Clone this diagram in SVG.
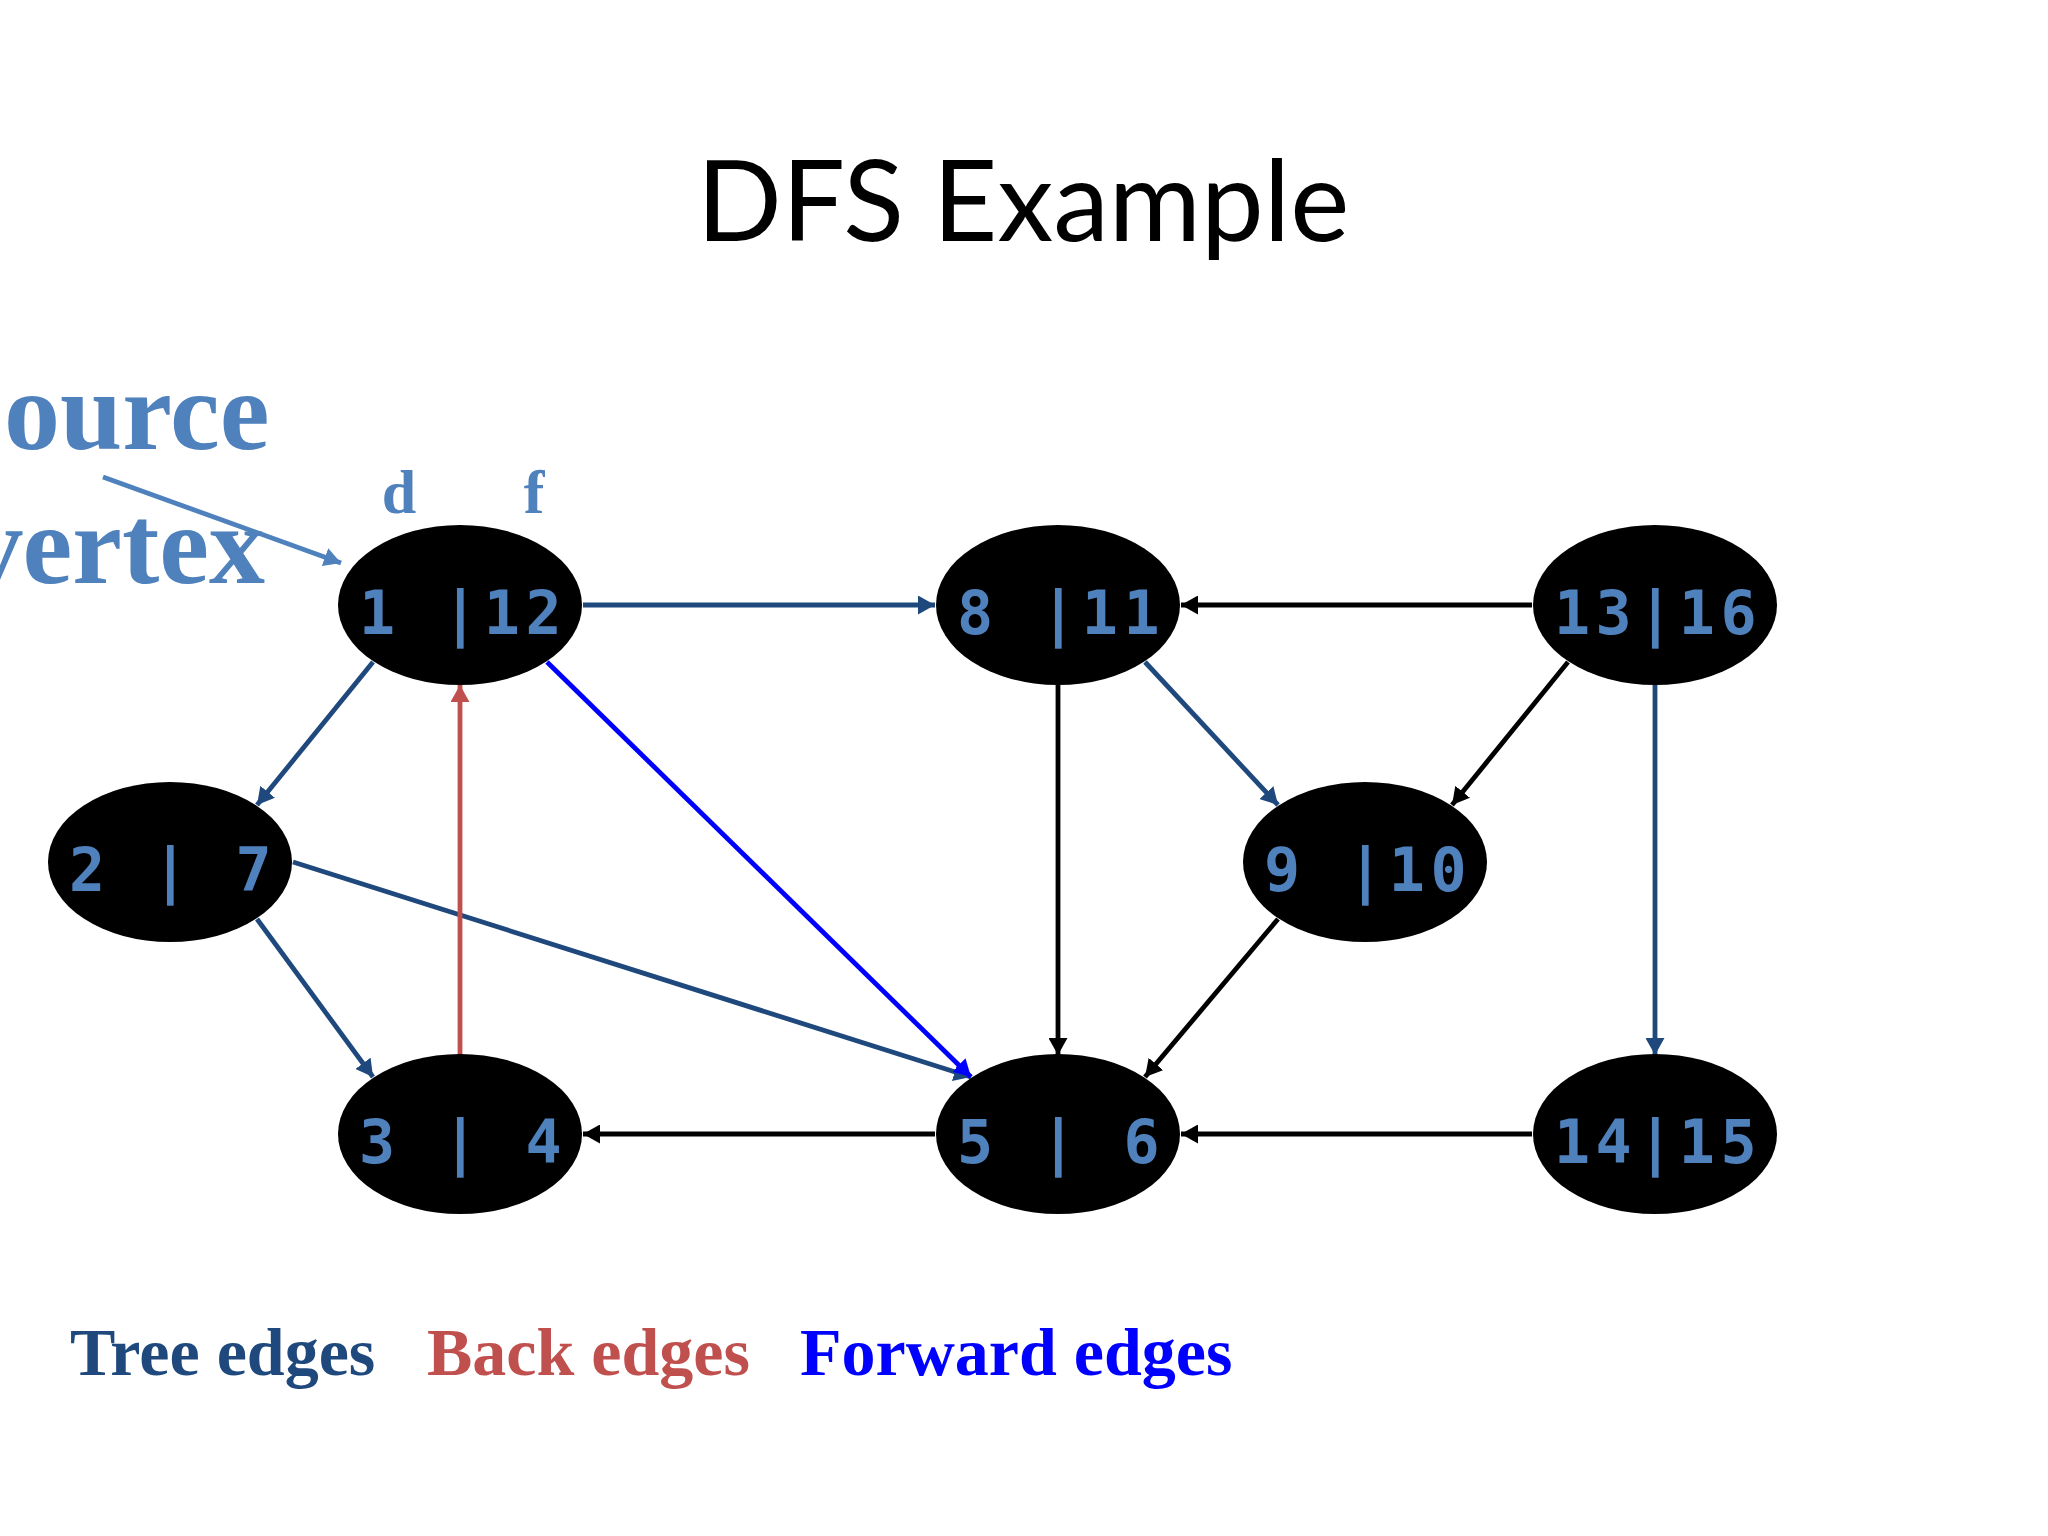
<svg xmlns="http://www.w3.org/2000/svg" width="2048" height="1536" viewBox="0 0 2048 1536">
<style>
.node ellipse{fill:#000}
.node text{font-family:"DejaVu Sans Mono","Liberation Mono",monospace;font-weight:bold;font-size:60px;fill:#4F81BD;text-anchor:middle;letter-spacing:5.5px}
.e{fill:none;stroke-width:4.8}
.tree{stroke:#1F497D}
.back{stroke:#C0504D}
.fwd{stroke:#0000FF}
.blk{stroke:#000}
.serif{font-family:"Liberation Serif","Times New Roman",serif;font-weight:bold}
</style>
<defs>
<marker id="mt" viewBox="0 0 17 19" refX="17" refY="9.5" markerWidth="17" markerHeight="19" markerUnits="userSpaceOnUse" orient="auto"><path d="M0,0L17,9.5L0,19z" fill="#1F497D"/></marker>
<marker id="mb" viewBox="0 0 17 19" refX="17" refY="9.5" markerWidth="17" markerHeight="19" markerUnits="userSpaceOnUse" orient="auto"><path d="M0,0L17,9.5L0,19z" fill="#C0504D"/></marker>
<marker id="mf" viewBox="0 0 17 19" refX="17" refY="9.5" markerWidth="17" markerHeight="19" markerUnits="userSpaceOnUse" orient="auto"><path d="M0,0L17,9.5L0,19z" fill="#0000FF"/></marker>
<marker id="mk" viewBox="0 0 17 19" refX="17" refY="9.5" markerWidth="17" markerHeight="19" markerUnits="userSpaceOnUse" orient="auto"><path d="M0,0L17,9.5L0,19z" fill="#000"/></marker>
<marker id="ms" viewBox="0 0 17 19" refX="17" refY="9.5" markerWidth="17" markerHeight="19" markerUnits="userSpaceOnUse" orient="auto"><path d="M0,0L17,9.5L0,19z" fill="#4F81BD"/></marker>
</defs>
<rect width="2048" height="1536" fill="#fff"/>
<text x="1023" y="241" font-family="Lato,'Open Sans',sans-serif" font-size="112" text-anchor="middle" fill="#000">DFS Example</text>
<g id="source-label" class="serif" fill="#4F81BD" font-size="112">
<text x="4" y="449">ource</text>
<text x="265" y="583" text-anchor="end">vertex</text>
</g>
<g id="df-labels" class="serif" fill="#4F81BD" font-size="62" text-anchor="middle">
<text x="399" y="513">d</text>
<text x="534" y="513">f</text>
</g>
<g id="connectors">
<line class="e" x1="103" y1="477" x2="341" y2="563" stroke="#4F81BD" marker-end="url(#ms)"/>
<line class="e tree" x1="583" y1="605" x2="935" y2="605" marker-end="url(#mt)"/>
<line class="e tree" x1="373" y1="662" x2="257" y2="805" marker-end="url(#mt)"/>
<line class="e tree" x1="257" y1="919" x2="373" y2="1077" marker-end="url(#mt)"/>
<line class="e tree" x1="293" y1="862" x2="971" y2="1077" marker-end="url(#mt)"/>
<line class="e tree" x1="1145" y1="662" x2="1278" y2="805" marker-end="url(#mt)"/>
<line class="e tree" x1="1655" y1="685" x2="1655" y2="1055" marker-end="url(#mt)"/>
<line class="e back" x1="460" y1="1055" x2="460" y2="685" marker-end="url(#mb)"/>
<line class="e fwd" x1="547" y1="662" x2="971" y2="1077" marker-end="url(#mf)"/>
<line class="e blk" x1="1532" y1="605" x2="1181" y2="605" marker-end="url(#mk)"/>
<line class="e blk" x1="1568" y1="662" x2="1452" y2="805" marker-end="url(#mk)"/>
<line class="e blk" x1="1058" y1="685" x2="1058" y2="1055" marker-end="url(#mk)"/>
<line class="e blk" x1="1278" y1="919" x2="1145" y2="1077" marker-end="url(#mk)"/>
<line class="e blk" x1="935" y1="1134" x2="583" y2="1134" marker-end="url(#mk)"/>
<line class="e blk" x1="1532" y1="1134" x2="1181" y2="1134" marker-end="url(#mk)"/>
</g>
<g id="n1" class="node"><ellipse cx="460" cy="605" rx="122" ry="80"/><text x="463" y="634" xml:space="preserve">1 |12</text></g>
<g id="n8" class="node"><ellipse cx="1058" cy="605" rx="122" ry="80"/><text x="1061" y="634" xml:space="preserve">8 |11</text></g>
<g id="n13" class="node"><ellipse cx="1655" cy="605" rx="122" ry="80"/><text x="1658" y="634" xml:space="preserve">13|16</text></g>
<g id="n2" class="node"><ellipse cx="170" cy="862" rx="122" ry="80"/><text x="173" y="891" xml:space="preserve">2 | 7</text></g>
<g id="n9" class="node"><ellipse cx="1365" cy="862" rx="122" ry="80"/><text x="1368" y="891" xml:space="preserve">9 |10</text></g>
<g id="n3" class="node"><ellipse cx="460" cy="1134" rx="122" ry="80"/><text x="463" y="1163" xml:space="preserve">3 | 4</text></g>
<g id="n5" class="node"><ellipse cx="1058" cy="1134" rx="122" ry="80"/><text x="1061" y="1163" xml:space="preserve">5 | 6</text></g>
<g id="n14" class="node"><ellipse cx="1655" cy="1134" rx="122" ry="80"/><text x="1658" y="1163" xml:space="preserve">14|15</text></g>
<g id="legend" class="serif" font-size="68">
<text x="70" y="1375" fill="#1F497D">Tree edges</text>
<text x="427" y="1375" fill="#C0504D">Back edges</text>
<text x="800" y="1375" fill="#0000FF">Forward edges</text>
</g>
</svg>
